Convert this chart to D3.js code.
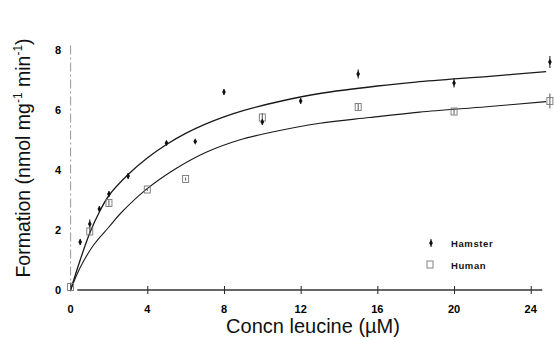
<!DOCTYPE html>
<html>
<head>
<meta charset="utf-8">
<script src="https://cdn.jsdelivr.net/npm/d3@7"></script>
<style>
  body { margin: 0; background: #fff; }
  svg { display: block; font-family: "Liberation Sans", Arial, sans-serif; }
</style>
</head>
<body>
<script>
// chart data
var xTicks = [0, 4, 8, 12, 16, 20, 24];
var yTicks = [0, 2, 4, 6, 8];

var hamsterX = [0.5, 1, 1.5, 2, 3, 5, 6.5, 8, 10, 12, 15, 20, 25];
var hamsterY = [1.6, 2.2, 2.7, 3.2, 3.8, 4.9, 4.95, 6.6, 5.6, 6.3, 7.2, 6.9, 7.6];
var hamsterErr = [0.1, 0.15, 0.1, 0.1, 0.1, 0.05, 0.05, 0.1, 0.1, 0.1, 0.15, 0.15, 0.2];

var humanX = [0, 1, 2, 4, 6, 10, 15, 20, 25];
var humanY = [0.1, 1.95, 2.9, 3.35, 3.7, 5.75, 6.1, 5.95, 6.3];
var humanErr = [0.15, 0.1, 0.1, 0.05, 0.05, 0.15, 0.1, 0.1, 0.25];

// fitted curves
var hamsterFitX = [0, 0.5, 1, 1.5, 2, 3, 4, 5, 6, 7, 8, 9, 11, 13, 16, 18, 22, 24.8];
var hamsterFitY = [0, 1.0, 1.9, 2.6, 3.15, 3.85, 4.4, 4.85, 5.22, 5.52, 5.77, 5.98, 6.3, 6.55, 6.8, 6.93, 7.13, 7.28];
var humanFitX = [0, 0.5, 1.2, 2, 2.6, 3.9, 5.5, 7.1, 8.8, 10.4, 13, 15.6, 18.2, 21.7, 24.8];
var humanFitY = [0, 0.75, 1.5, 2.1, 2.55, 3.33, 4.05, 4.6, 5.0, 5.25, 5.56, 5.75, 5.93, 6.11, 6.28];

var legendNames = ["Hamster", "Human"];

var w = 554, h = 340;

var svg = d3.select("body").append("svg")
    .attr("width", w)
    .attr("height", h);

var x = d3.scaleLinear().domain([0, 25]).range([70.6, 549.9]);
var y = d3.scaleLinear().domain([0, 8]).range([290, 50]);

// y axis: faint broken line
svg.append("line")
    .attr("x1", x(0)).attr("x2", x(0))
    .attr("y1", y(8.15)).attr("y2", y(0))
    .attr("stroke", "#999")
    .attr("stroke-width", 1)
    .attr("stroke-dasharray", "9,3,2,3");

svg.selectAll(".ylab")
    .data(yTicks)
    .enter().append("text")
    .attr("class", "ylab")
    .attr("x", 61)
    .attr("y", function(d) { return y(d) + 4; })
    .attr("text-anchor", "end")
    .attr("font-size", 11)
    .attr("font-weight", "bold")
    .text(function(d) { return d; });

// x axis
var xAxis = d3.axisBottom(x).tickValues(xTicks.slice(1)).tickSize(4).tickFormat("");
var gx = svg.append("g")
    .attr("transform", "translate(0," + y(0) + ")")
    .call(xAxis);
gx.select(".domain").remove();
gx.selectAll(".tick line").attr("y1", -4).attr("y2", 4).attr("stroke", "#222");

svg.append("line")
    .attr("x1", x(0.35)).attr("x2", x(24.6))
    .attr("y1", y(0)).attr("y2", y(0))
    .attr("stroke", "#333")
    .attr("stroke-width", 1.3);

svg.selectAll(".xlab")
    .data(xTicks)
    .enter().append("text")
    .attr("class", "xlab")
    .attr("x", function(d) { return x(d); })
    .attr("y", 313)
    .attr("text-anchor", "middle")
    .attr("font-size", 11)
    .attr("font-weight", "bold")
    .text(function(d) { return d; });

// axis titles
var yt = svg.append("text")
    .attr("transform", "translate(30,158) rotate(-90)")
    .attr("text-anchor", "middle")
    .attr("font-size", 19.5)
    .attr("fill", "#111");
yt.append("tspan").text("Formation (nmol mg");
yt.append("tspan").attr("font-size", 12).attr("dy", -8).text("-1");
yt.append("tspan").attr("dy", 8).text(" min");
yt.append("tspan").attr("font-size", 12).attr("dy", -8).text("-1");
yt.append("tspan").attr("dy", 8).text(")");

svg.append("text")
    .attr("x", 313)
    .attr("y", 333)
    .attr("text-anchor", "middle")
    .attr("font-size", 20)
    .attr("fill", "#111")
    .text("Concn leucine (\u00b5M)");

// fitted curves
var line = d3.line()
    .x(function(d) { return x(d[0]); })
    .y(function(d) { return y(d[1]); })
    .curve(d3.curveCatmullRom);

svg.append("path")
    .datum(d3.zip(hamsterFitX, hamsterFitY))
    .attr("d", line)
    .attr("fill", "none")
    .attr("stroke", "#1a1a1a")
    .attr("stroke-width", 1.3);

svg.append("path")
    .datum(d3.zip(humanFitX, humanFitY))
    .attr("d", line)
    .attr("fill", "none")
    .attr("stroke", "#1a1a1a")
    .attr("stroke-width", 1.1);

// error bars
function errBars(xs, ys, es, col) {
    svg.append("g").selectAll("line")
        .data(d3.zip(xs, ys, es))
        .enter().append("line")
        .attr("x1", function(d) { return x(d[0]); })
        .attr("x2", function(d) { return x(d[0]); })
        .attr("y1", function(d) { return y(d[1] - d[2]); })
        .attr("y2", function(d) { return y(d[1] + d[2]); })
        .attr("stroke", col)
        .attr("stroke-width", 1);
}
errBars(humanX, humanY, humanErr, "#555");
errBars(hamsterX, hamsterY, hamsterErr, "#111");

// human: open squares
svg.append("g").selectAll("rect")
    .data(d3.zip(humanX, humanY))
    .enter().append("rect")
    .attr("x", function(d) { return x(d[0]) - 3; })
    .attr("y", function(d) { return y(d[1]) - 3.5; })
    .attr("width", 6)
    .attr("height", 7)
    .attr("fill", "none")
    .attr("stroke", "#777")
    .attr("stroke-width", 0.9);

// hamster: small filled diamonds
var diamond = d3.symbol().type(d3.symbolDiamond).size(12);
svg.append("g").selectAll("path")
    .data(d3.zip(hamsterX, hamsterY))
    .enter().append("path")
    .attr("transform", function(d) { return "translate(" + x(d[0]) + "," + y(d[1]) + ")"; })
    .attr("d", diamond)
    .attr("fill", "#111");

// legend
var leg = svg.append("g");
leg.append("path")
    .attr("transform", "translate(431,243)")
    .attr("d", diamond)
    .attr("fill", "#111");
leg.append("line")
    .attr("x1", 431).attr("x2", 431).attr("y1", 239).attr("y2", 247)
    .attr("stroke", "#111");
leg.append("rect")
    .attr("x", 427).attr("y", 261).attr("width", 6).attr("height", 7)
    .attr("fill", "none").attr("stroke", "#777").attr("stroke-width", 0.9);
leg.selectAll("text")
    .data(legendNames)
    .enter().append("text")
    .attr("x", 451)
    .attr("y", function(d, i) { return 247 + i * 22; })
    .attr("font-size", 9.5)
    .attr("font-weight", "bold")
    .attr("letter-spacing", 0.6)
    .attr("fill", "#111")
    .text(function(d) { return d; });
</script>
</body>
</html>
